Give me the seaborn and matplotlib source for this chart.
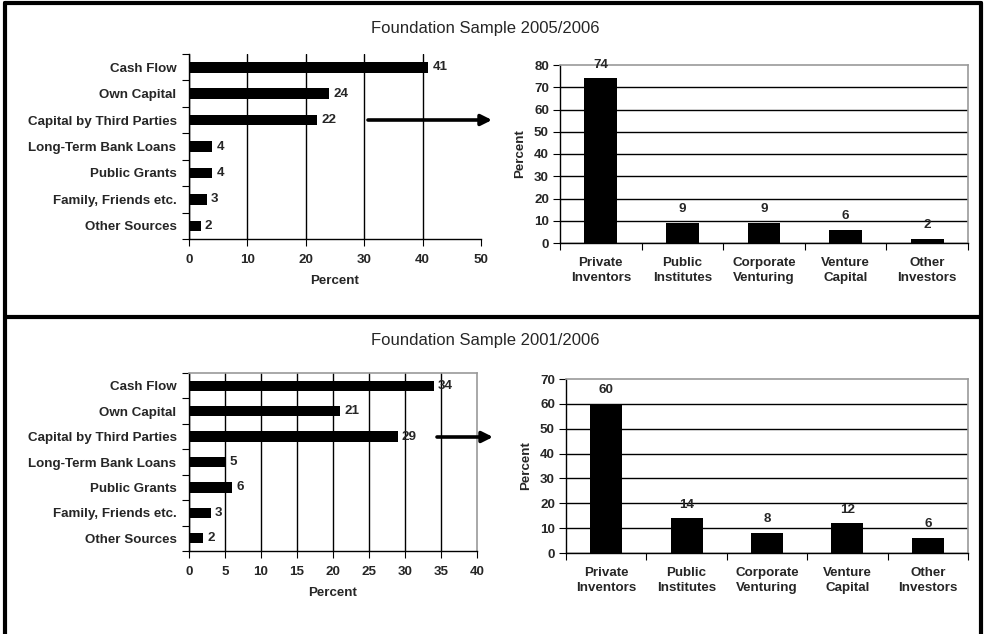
import numpy as np
import pandas as pd
import matplotlib
matplotlib.use("Agg")
import matplotlib.pyplot as plt
import seaborn as sns
from matplotlib.lines import Line2D

sns.set_style("white")
plt.rcParams["font.family"] = ["Liberation Sans", "DejaVu Sans"]

# ---- data -------------------------------------------------------------
sources = ["Cash Flow", "Own Capital", "Capital by Third Parties",
           "Long-Term Bank Loans", "Public Grants", "Family, Friends etc.",
           "Other Sources"]
sources_2005 = [41, 24, 22, 4, 4, 3, 2]
sources_2001 = [34, 21, 29, 5, 6, 3, 2]

investors = ["Private\nInventors", "Public\nInstitutes", "Corporate\nVenturing",
             "Venture\nCapital", "Other\nInvestors"]
investors_2005 = [74, 9, 9, 6, 2]
investors_2001 = [60, 14, 8, 12, 6]

titles = ["Foundation Sample 2005/2006", "Foundation Sample 2001/2006"]
src_xticks = [[0, 10, 20, 30, 40, 50], [0, 5, 10, 15, 20, 25, 30, 35, 40]]
inv_yticks = [[0, 10, 20, 30, 40, 50, 60, 70, 80], [0, 10, 20, 30, 40, 50, 60, 70]]

W, H = 984, 634
fig = plt.figure(figsize=(W / 100, H / 100), dpi=100)
FS = 9.6
GRAY = "#9a9a9a"


def px_axes(x0, y0, x1, y1):
    """Axes from pixel box (top-left origin)."""
    return fig.add_axes([x0 / W, 1 - y1 / H, (x1 - x0) / W, (y1 - y0) / H])


def source_chart(ax, values, xticks, frame):
    df = pd.DataFrame({"source": sources, "pct": values})
    sns.barplot(data=df, x="pct", y="source", orient="h", color="black",
                saturation=1, width=0.4, linewidth=0, ax=ax)
    ax.set_xlim(xticks[0], xticks[-1])
    ax.set_xticks(xticks)
    ax.set_xticklabels([str(t) for t in xticks], fontsize=FS, fontweight="bold")
    ax.set_yticks(range(len(sources)))
    ax.set_yticklabels(sources, fontsize=FS, fontweight="bold")
    ax.set_yticks(np.arange(-0.5, len(sources), 1), minor=True)
    ax.tick_params(axis="y", which="major", length=0, pad=9)
    ax.tick_params(axis="y", which="minor", length=5, width=0.8, color="black", direction="out", left=True)
    ax.tick_params(axis="x", which="major", length=5, width=0.8, color="black", direction="out", bottom=True, pad=6)
    ax.set_ylabel("")
    ax.set_xlabel("Percent", fontsize=FS, fontweight="bold", labelpad=6)
    ax.xaxis.grid(True, color="black", linewidth=1)
    ax.set_axisbelow(True)
    ax.get_xgridlines()[-1].set_visible(False)
    for s in ("left", "bottom"):
        ax.spines[s].set_color("black")
        ax.spines[s].set_linewidth(1)
    for s in ("top", "right"):
        ax.spines[s].set_visible(frame)
        ax.spines[s].set_color(GRAY)
        ax.spines[s].set_linewidth(1.2)
    ax.bar_label(ax.containers[0], labels=[str(v) for v in values],
                 padding=3, fontsize=FS, fontweight="bold")


def investor_chart(ax, values, yticks):
    df = pd.DataFrame({"investor": investors, "pct": values})
    sns.barplot(data=df, x="investor", y="pct", color="black",
                saturation=1, width=0.4, linewidth=0, ax=ax)
    ax.set_ylim(yticks[0], yticks[-1])
    ax.set_yticks(yticks)
    ax.set_yticklabels([str(t) for t in yticks], fontsize=FS, fontweight="bold")
    ax.set_xticks(range(len(investors)))
    ax.set_xticklabels(investors, fontsize=FS, fontweight="bold", linespacing=1.4)
    ax.set_xticks(np.arange(-0.5, len(investors), 1), minor=True)
    ax.set_xlim(-0.5, len(investors) - 0.5)
    ax.tick_params(axis="x", which="major", length=0, pad=10)
    ax.tick_params(axis="x", which="minor", length=5, width=0.8, color="black", direction="out", bottom=True)
    ax.tick_params(axis="y", which="major", length=5, width=0.8, color="black", direction="out", left=True, pad=3)
    ax.set_xlabel("")
    ax.set_ylabel("Percent", fontsize=FS, fontweight="bold", labelpad=6)
    ax.yaxis.grid(True, color="black", linewidth=1)
    ax.set_axisbelow(True)
    ax.get_ygridlines()[-1].set_visible(False)
    for s in ("left", "bottom"):
        ax.spines[s].set_color("black")
        ax.spines[s].set_linewidth(1)
    for s in ("top", "right"):
        ax.spines[s].set_color(GRAY)
        ax.spines[s].set_linewidth(1.2)
    ax.bar_label(ax.containers[0], labels=[str(v) for v in values],
                 padding=5.5, fontsize=FS, fontweight="bold")


# top panel
ax1 = px_axes(189, 54, 481, 239)
source_chart(ax1, sources_2005, src_xticks[0], frame=False)
ax2 = px_axes(560, 65, 968, 243)
investor_chart(ax2, investors_2005, inv_yticks[0])

# bottom panel
ax3 = px_axes(189, 373, 477, 551)
source_chart(ax3, sources_2001, src_xticks[1], frame=True)
ax4 = px_axes(566, 379, 968, 553)
investor_chart(ax4, investors_2001, inv_yticks[1])

# panel titles
fig.text(485 / W, 1 - 28 / H, titles[0], ha="center", va="center", fontsize=12)
fig.text(485 / W, 1 - 341 / H, titles[1], ha="center", va="center", fontsize=12)

# arrows linking "Capital by Third Parties" to the investor breakdown
for (xa, xb, yy) in [(368, 492, 120), (437, 493, 437)]:
    fig.add_artist(matplotlib.patches.FancyArrowPatch(
        (xa / W, 1 - yy / H), (xb / W, 1 - yy / H), transform=fig.transFigure,
        arrowstyle="-|>", mutation_scale=16, linewidth=2.6, color="black",
        shrinkA=0, shrinkB=0))

# panel frames
frame_kw = dict(color="black", linewidth=3, transform=fig.transFigure)
fig.add_artist(Line2D([5 / W, 5 / W], [0, 1 - 3 / H], **frame_kw))
fig.add_artist(Line2D([981 / W, 981 / W], [0, 1 - 3 / H], **frame_kw))
fig.add_artist(Line2D([5 / W, 981 / W], [1 - 3 / H, 1 - 3 / H], **frame_kw))
fig.add_artist(Line2D([5 / W, 981 / W], [1 - 317 / H, 1 - 317 / H], **frame_kw))

fig.savefig("out.png", dpi=100, facecolor="white")
